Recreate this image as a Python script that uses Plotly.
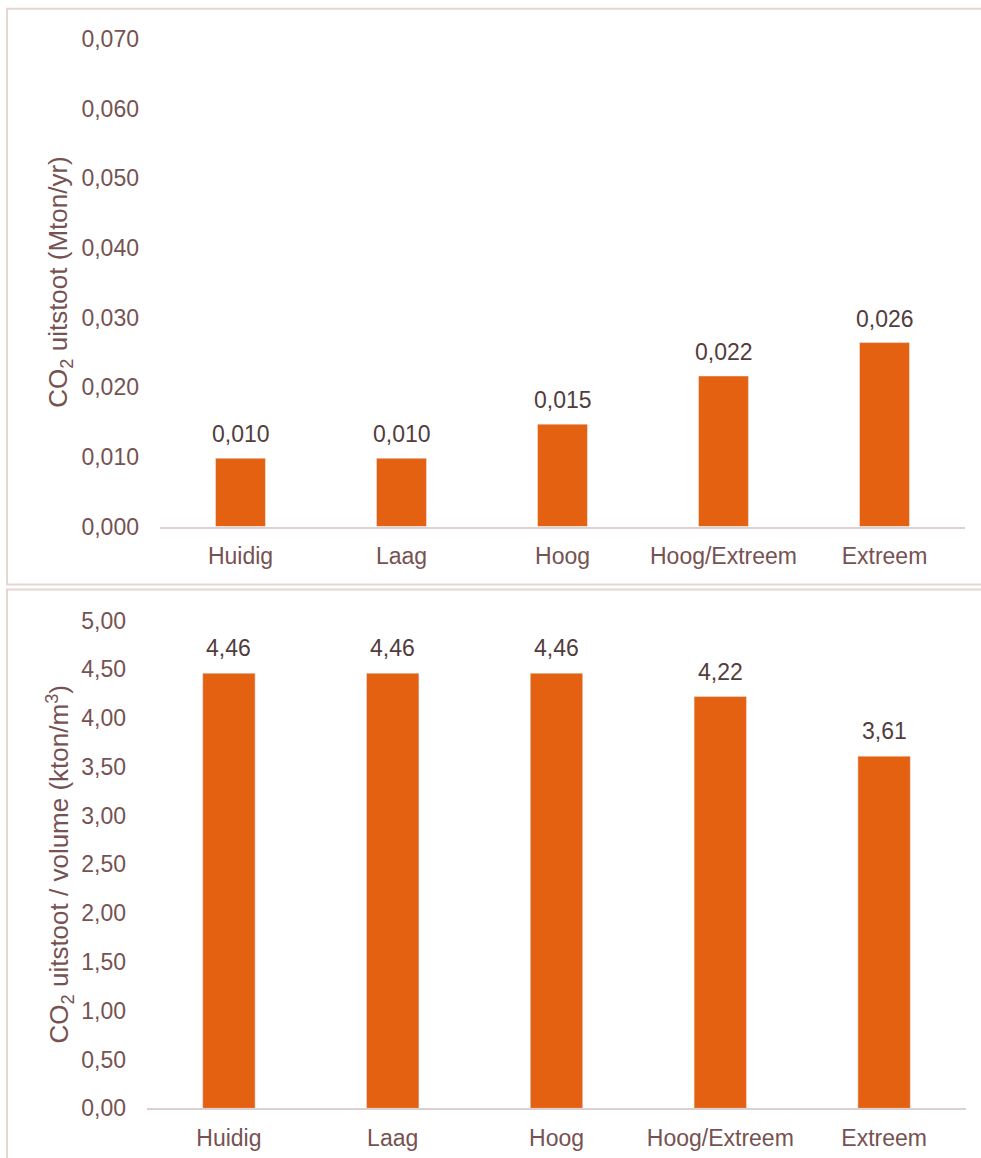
import plotly.graph_objects as go

categories = ["Huidig", "Laag", "Hoog", "Hoog/Extreem", "Extreem"]
co2_total = [0.0098, 0.0098, 0.0147, 0.0216, 0.0264]
co2_total_labels = ["0,010", "0,010", "0,015", "0,022", "0,026"]
co2_per_volume = [4.46, 4.46, 4.46, 4.22, 3.61]
co2_per_volume_labels = ["4,46", "4,46", "4,46", "4,22", "3,61"]
top_ticks = [0.0, 0.01, 0.02, 0.03, 0.04, 0.05, 0.06, 0.07]
bottom_ticks = [0.0, 0.5, 1.0, 1.5, 2.0, 2.5, 3.0, 3.5, 4.0, 4.5, 5.0]

W, H = 981, 1158
BAR = "#e36110"
TICK = "#765252"
LABEL = "#523c3c"
BORDER = "#e5d6d3"
AXIS = "#ddd0ce"
FONT = "Liberation Sans, Arial, sans-serif"
FS = 23
TFS = 26

# observed vertical mapping of the rendered page
Y0, HEFF = 12.2, 1132.5


def px(x):
    return x / W


def py(y):
    return 1 - (y - Y0) / HEFF


fig = go.Figure()
fig.add_trace(go.Bar(x=categories, y=co2_total, marker_color=BAR, xaxis="x", yaxis="y",
                     width=0.31, hoverinfo="x+y"))
fig.add_trace(go.Bar(x=categories, y=co2_per_volume, marker_color=BAR, xaxis="x2", yaxis="y2",
                     width=0.32, hoverinfo="x+y"))

for c, v, t in zip(categories, co2_total, co2_total_labels):
    fig.add_annotation(x=c, y=v, xref="x", yref="y", text=t, showarrow=False,
                       yanchor="bottom", yshift=9, font=dict(color=LABEL, size=FS, family=FONT))
for c, v, t in zip(categories, co2_per_volume, co2_per_volume_labels):
    fig.add_annotation(x=c, y=v, xref="x2", yref="y2", text=t, showarrow=False,
                       yanchor="bottom", yshift=10, font=dict(color=LABEL, size=FS, family=FONT))

axis_common = dict(showgrid=False, zeroline=False, tickfont=dict(color=TICK, size=FS, family=FONT))

fig.update_layout(
    width=W, height=H, margin=dict(l=0, r=0, t=0, b=0),
    paper_bgcolor="white", plot_bgcolor="white",
    separators=",.", showlegend=False, font=dict(family=FONT, color=TICK, size=FS),
    xaxis=dict(domain=[px(160), px(965)], anchor="y", showline=True, linecolor=AXIS, linewidth=2,
               ticks="", ticklabelstandoff=8, **axis_common),
    yaxis=dict(domain=[py(526), py(38)], anchor="x", range=[0, 0.07], tickvals=top_ticks,
               tickformat=".3f", showline=False, ticks="", ticklabelstandoff=20, **axis_common),
    xaxis2=dict(domain=[px(147), px(966)], anchor="y2", showline=True, linecolor=AXIS, linewidth=2,
                ticks="", ticklabelstandoff=8, **axis_common),
    yaxis2=dict(domain=[py(1108), py(620)], anchor="x2", range=[0, 5.0], tickvals=bottom_ticks,
                tickformat=".2f", showline=False, ticks="", ticklabelstandoff=20, **axis_common),
)

fig.add_annotation(text="CO<sub>2</sub> uitstoot (Mton/yr)", textangle=-90, xref="paper", yref="paper",
                   x=px(60), y=py(282), xanchor="center", yanchor="middle", showarrow=False,
                   font=dict(color=TICK, size=TFS, family=FONT))
fig.add_annotation(text="CO<sub>2</sub> uitstoot / volume (kton/m<sup>3</sup>)", textangle=-90,
                   xref="paper", yref="paper", x=px(60), y=py(864), xanchor="center", yanchor="middle",
                   showarrow=False, font=dict(color=TICK, size=TFS, family=FONT))

fig.add_shape(type="rect", xref="paper", yref="paper", x0=px(7), y0=py(584), x1=px(1000), y1=py(8),
              line=dict(color=BORDER, width=2), fillcolor="rgba(0,0,0,0)", layer="below")
fig.add_shape(type="rect", xref="paper", yref="paper", x0=px(7), y0=py(1180), x1=px(1000), y1=py(589),
              line=dict(color=BORDER, width=2), fillcolor="rgba(0,0,0,0)", layer="below")

fig.write_html("out.html")
